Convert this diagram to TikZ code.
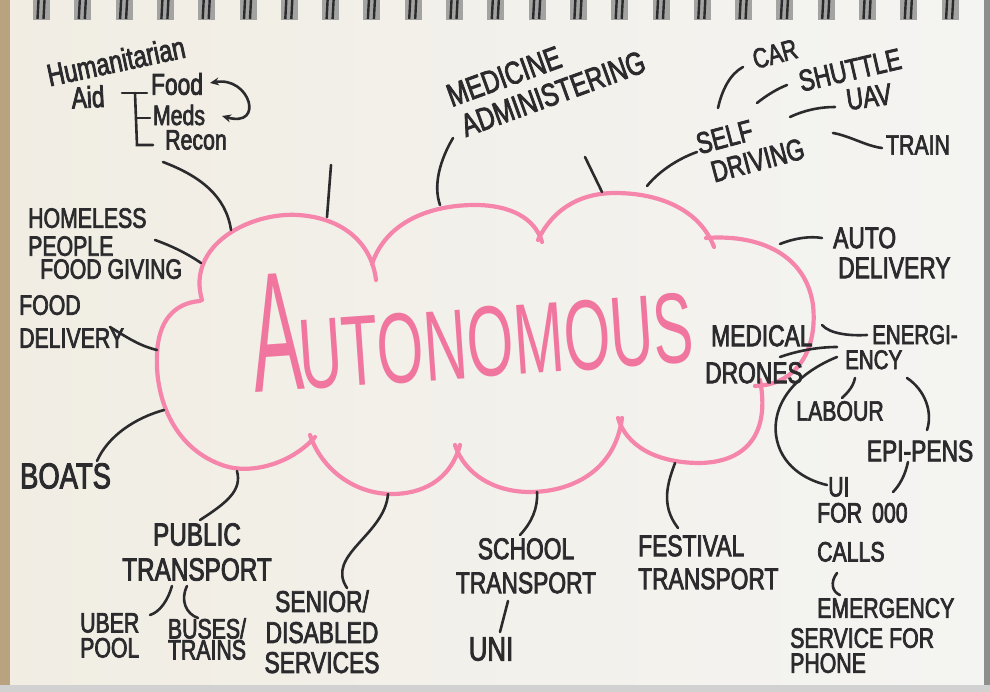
\documentclass[tikz,border=0pt]{standalone}
\usepackage{fontspec}
\usepackage{graphicx}
\usepackage{xcolor}
\usepackage{tikz}
\usetikzlibrary{arrows.meta}

\newfontfamily\hand[FakeStretch=0.76,FakeBold=2.5]{Liberation Sans}
\newfontfamily\bighand[FakeStretch=0.6]{Liberation Sans}
\newcommand{\handsz}[1]{\hand\fontsize{#1}{#1}\selectfont}

\definecolor{paperl}{HTML}{F1EDE3}
\definecolor{paperr}{HTML}{F4F4F2}
\definecolor{edgetan}{HTML}{B9A27F}
\definecolor{edgegray}{HTML}{8E8E8C}
\definecolor{holegray}{HTML}{A3A3A1}
\definecolor{ink}{HTML}{2B2B2E}
\definecolor{marker}{HTML}{F585AB}
\definecolor{markertext}{HTML}{F0769F}

\begin{document}
\begin{tikzpicture}[x=1pt, y=-1pt, >={Stealth[length=9pt,width=8pt]},
    lbl/.style={text=ink, inner sep=0pt, align=center, font=\handsz{28}},
    link/.style={draw=ink, line width=2.6pt, line cap=round},
    lobe/.style={draw=marker, line width=4.2pt, line cap=round}]
    \useasboundingbox (0,0) rectangle (990,692);

    % paper and spiral
    \shade[left color=paperl, right color=paperr] (0,0) rectangle (990,692);
    \fill[edgetan] (0,0) rectangle (10,692);
    \fill[edgegray] (984,0) rectangle (990,692);
    \fill[black!18] (0,685) rectangle (990,692);
    \foreach \i in {0,...,22} {
        \pgfmathsetmacro\rx{33+41.3*\i}
        \fill[holegray] (\rx,0) rectangle (\rx+17,20);
        \draw[ink, line width=2.4pt] (\rx+5.5,0) -- (\rx+4.5,19);
        \draw[ink, line width=2.4pt] (\rx+11.5,0) -- (\rx+10.5,19);
    }

    % cloud
    \draw[lobe] (202,300) .. controls (186,245) and (250,212) .. (298,215) .. controls (345,218) and (372,245) .. (376,280);
    \draw[lobe] (372,264) .. controls (386,222) and (430,205) .. (475,205) .. controls (510,205) and (535,218) .. (542,242);
    \draw[lobe] (538,240) .. controls (555,205) and (585,193) .. (615,193) .. controls (660,193) and (700,210) .. (714,247);
    \draw[lobe] (706,238) .. controls (760,234) and (806,255) .. (813,305) .. controls (818,352) and (795,385) .. (755,386);
    \draw[lobe] (760,380) .. controls (770,432) and (748,462) .. (700,463) .. controls (655,463) and (626,445) .. (618,418);
    \draw[lobe] (622,418) .. controls (615,472) and (570,492) .. (530,492) .. controls (495,492) and (465,475) .. (455,445);
    \draw[lobe] (460,445) .. controls (450,482) and (420,494) .. (392,494) .. controls (355,494) and (322,470) .. (310,435);
    \draw[lobe] (315,437) .. controls (290,465) and (250,474) .. (225,466) .. controls (175,450) and (155,400) .. (157,355) .. controls (158,320) and (175,303) .. (200,301);

    \node[anchor=base west, rotate=4, text=markertext, inner sep=0pt] (autonomous) at (255,393)
        {\bighand\fontsize{100}{100}\selectfont\scalebox{1.25}[1.7]{A}\kern-4pt UTONOMOUS};

    % points on the cloud
    \coordinate (c-hum) at (231,230);
    \coordinate (c-home) at (201,263);
    \coordinate (c-food) at (157,350);
    \coordinate (c-boat) at (164,410);
    \coordinate (c-pub) at (237,471);
    \coordinate (c-sen) at (388,494);
    \coordinate (c-sch) at (537,492);
    \coordinate (c-fest) at (675,463);
    \coordinate (c-auto) at (780,244);
    \coordinate (c-med) at (440,205);
    \coordinate (c-self) at (647,186);
    \coordinate (stubA) at (331,165);
    \coordinate (stubA-c) at (327,217);
    \coordinate (stubB) at (585,157);
    \coordinate (stubB-c) at (602,192);

    % left side
    \node[lbl, rotate=12, font=\handsz{31}] (human) at (116,61) {Humanitarian};
    \node[lbl, rotate=3, font=\handsz{30}] (aid) at (88,97) {Aid};
    \node[lbl, font=\handsz{30}] (food) at (177,84) {Food};
    \node[lbl, font=\handsz{28}] (meds) at (179,115) {Meds};
    \node[lbl, font=\handsz{28}] (recon) at (196,140) {Recon};

    \node[lbl, align=left, anchor=north west] (homeless) at (28,208) {HOMELESS\\PEOPLE\\[-5pt]\hspace*{12pt}FOOD GIVING};
    \node[lbl, align=left, anchor=north west] (fooddel) at (19,295) {FOOD\\[5pt]DELIVERY};
    \node[lbl, anchor=north west, font=\handsz{36}] (boats) at (20,463) {BOATS};

    % bottom
    \node[lbl, anchor=north, font=\handsz{32}] (public) at (197,523) {PUBLIC\\[3pt]TRANSPORT};
    \node[lbl, align=left, anchor=north west] (uber) at (80,613) {UBER\\[-3pt]POOL};
    \node[lbl, anchor=north] (buses) at (207,618) {BUSES/\\[-7pt]TRAINS};
    \node[lbl, anchor=north, font=\handsz{30}] (senior) at (322,590) {SENIOR/\\[1pt]DISABLED\\SERVICES};
    \node[lbl, anchor=north, font=\handsz{30}] (school) at (526,538) {SCHOOL\\[4pt]TRANSPORT};
    \node[lbl, anchor=north, font=\handsz{34}] (uni) at (491,637) {UNI};
    \node[lbl, align=left, anchor=north west, font=\handsz{30}] (festival) at (638,535) {FESTIVAL\\[3pt]TRANSPORT};

    % top
    \node[lbl, align=left, anchor=north west, rotate=20, font=\handsz{32}] (medicine) at (444,86) {MEDICINE\\[1pt]\hspace*{3pt}ADMINISTERING};
    \node[lbl, align=left, anchor=north west, rotate=15, font=\handsz{30}] (self) at (694,134) {SELF\\[1pt]\hspace*{7pt}DRIVING};
    \node[lbl, rotate=15] (car) at (775,54) {CAR};
    \node[lbl, rotate=13, font=\handsz{30}] (shuttle) at (850,70) {SHUTTLE};
    \node[lbl, rotate=8, font=\handsz{30}] (uav) at (869,97) {UAV};
    \node[lbl] (train) at (918,145) {TRAIN};

    % right side
    \node[lbl, align=left, anchor=north west, font=\handsz{30}] (autodel) at (833,227) {AUTO\\\hspace*{5pt}DELIVERY};
    \node[lbl, align=left, anchor=north west, font=\handsz{30}] (meddr) at (705,325) {\hspace*{6pt}MEDICAL\\[7pt]DRONES};
    \node[lbl, align=left, anchor=north west, font=\handsz{27}] (energ) at (845,325) {\hspace*{27pt}ENERGI-\\[-2pt]ENCY};
    \node[lbl] (labour) at (840,411) {LABOUR};
    \node[lbl, font=\handsz{30}] (epipens) at (920,451) {EPI-PENS};
    \node[lbl, align=left, anchor=north west] (uicalls) at (817,477) {\hspace*{11pt}UI\\[-2pt]FOR\hspace{10pt}000\\[11pt]CALLS};
    \node[lbl, align=left, anchor=north west] (emerg) at (790,598) {\hspace*{27pt}EMERGENCY\\[2pt]SERVICE FOR\\[-3pt]PHONE};

    % humanitarian bracket and arrow
    \draw[link] ([shift={(34,-4)}]aid.center) -- ([shift={(-30,9)}]food.center);
    \draw[link] ([shift={(-42,9)}]food.center) -- ([shift={(-59,5)}]recon.center) -- ([shift={(-43,5)}]recon.center);
    \draw[link] ([shift={(-42,3)}]meds.center) -- ([shift={(-29,3)}]meds.center);
    \draw[link, <->] ([shift={(33,-1)}]food.center) .. controls (250,76) and (265,128) .. ([shift={(43,1)}]meds.center);

    % connectors to the cloud
    \draw[link] ([shift={(-33,22)}]recon.center) .. controls (200,176) and (226,196) .. (c-hum);
    \draw[link] ([shift={(127,32)}]homeless.north west) .. controls (172,246) and (188,254) .. (c-home);
    \draw[link] ([shift={(91,32)}]fooddel.north west) .. controls (128,338) and (140,346) .. (c-food);
    \draw[link] ([shift={(77,-2)}]boats.north west) .. controls (108,436) and (135,418) .. (c-boat);
    \draw[link] ([shift={(3,-3)}]public.north) .. controls (228,502) and (242,490) .. (c-pub);
    \draw[link] ([shift={(25,-2)}]senior.north) .. controls (325,555) and (385,535) .. (c-sen);
    \draw[link] ([shift={(-6,-3)}]school.north) .. controls (532,522) and (538,508) .. (c-sch);
    \draw[link] ([shift={(40,-7)}]festival.north west) .. controls (660,505) and (668,482) .. (c-fest);
    \draw[link] ([shift={(9,52)}]medicine.north west) .. controls (440,160) and (433,185) .. (c-med);
    \draw[link] (stubA) -- (stubA-c);
    \draw[link] (stubB) -- (stubB-c);
    \draw[link] ([shift={(3,18)}]self.north west) .. controls (680,158) and (660,170) .. (c-self);
    \draw[link] (c-auto) .. controls (795,238) and (810,236) .. ([shift={(-11,11)}]autodel.north west);

    % sub branches
    \draw[link] ([shift={(-25,63)}]public.north) .. controls (168,600) and (160,612) .. ([shift={(70,2)}]uber.north west);
    \draw[link] ([shift={(-10,63)}]public.north) .. controls (180,600) and (186,614) .. ([shift={(-9,0)}]buses.north);
    \draw[link] ([shift={(-18,63)}]school.north) -- ([shift={(9,-5)}]uni.north);
    \draw[link] ([shift={(24,-26)}]self.north west) .. controls (722,90) and (730,74) .. ([shift={(-32,13)}]car.center);
    \draw[link] ([shift={(63,-31)}]self.north west) .. controls (767,95) and (777,89) .. ([shift={(-63,15)}]shuttle.center);
    \draw[link] ([shift={(96,-17)}]self.north west) .. controls (805,110) and (820,107) .. ([shift={(-34,10)}]uav.center);
    \draw[link] ([shift={(139,-1)}]self.north west) .. controls (850,136) and (866,146) .. ([shift={(-36,3)}]train.center);
    \draw[link] ([shift={(117,0)}]meddr.north west) .. controls (830,334) and (850,336) .. ([shift={(22,10)}]energ.north west);
    \draw[link] ([shift={(75,32)}]meddr.north west) .. controls (800,350) and (820,347) .. ([shift={(-8,22)}]energ.north west);
    \draw[link] ([shift={(-8,32)}]energ.north west) .. controls (800,372) and (772,400) .. (776,435) .. controls (780,465) and (805,480) .. ([shift={(10,8)}]uicalls.north west);
    \draw[link] ([shift={(10,53)}]energ.north west) .. controls (853,388) and (846,394) .. ([shift={(2,-13)}]labour.center);
    \draw[link] ([shift={(62,53)}]energ.north west) .. controls (925,390) and (933,412) .. ([shift={(7,-21)}]epipens.center);
    \draw[link] ([shift={(-12,11)}]epipens.center) .. controls (905,476) and (899,486) .. ([shift={(76,15)}]uicalls.north west);
    \draw[link] ([shift={(20,96)}]uicalls.north west) .. controls (830,582) and (832,592) .. ([shift={(50,-3)}]emerg.north west);
\end{tikzpicture}
\end{document}
